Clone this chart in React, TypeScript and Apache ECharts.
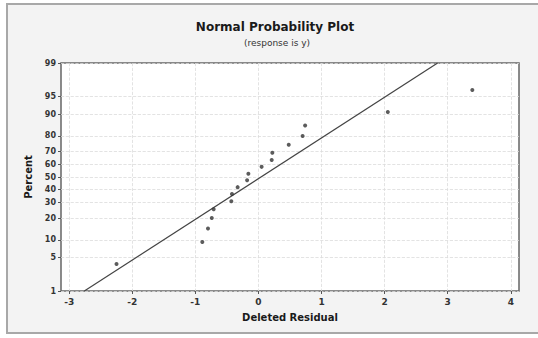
import React, { useEffect, useRef } from "react";
import * as echarts from "echarts";

// Deleted residuals (x) and their plotted percents (y)
const residuals = [-2.25, -0.89, -0.8, -0.74, -0.71, -0.43, -0.42, -0.33, -0.18, -0.16, 0.05, 0.21, 0.22, 0.48, 0.7, 0.74, 2.05, 3.39];
const percents = [3.8, 9.2, 14.7, 20.1, 25.5, 31.0, 36.4, 41.8, 47.3, 52.7, 58.2, 63.6, 69.0, 74.5, 79.9, 85.3, 90.8, 96.2];
// fitted reference line endpoints
const fitX = [-2.76, 2.84];
const fitPct = [1, 99];
// axis ticks
const yTickLabels = [1, 5, 10, 20, 30, 40, 50, 60, 70, 80, 90, 95, 99];
const xTicks = [-3, -2, -1, 0, 1, 2, 3, 4];

// inverse standard normal CDF (Acklam)
function probit(p: number): number {
  const a = [-39.69683028665376, 220.9460984245205, -275.9285104469687, 138.357751867269, -30.66479806614716, 2.506628277459239];
  const b = [-54.47609879822406, 161.5858368580409, -155.6989798598866, 66.80131188771972, -13.28068155288572];
  const c = [-0.007784894002430293, -0.3223964580411365, -2.400758277161838, -2.549732539343734, 4.374664141464968, 2.938163982698783];
  const d = [0.007784695709041462, 0.3224671290700398, 2.445134137142996, 3.754408661907416];
  const pl = 0.02425;
  if (p < pl) {
    const q = Math.sqrt(-2 * Math.log(p));
    return (((((c[0] * q + c[1]) * q + c[2]) * q + c[3]) * q + c[4]) * q + c[5]) / ((((d[0] * q + d[1]) * q + d[2]) * q + d[3]) * q + 1);
  }
  if (p > 1 - pl) {
    const q = Math.sqrt(-2 * Math.log(1 - p));
    return -(((((c[0] * q + c[1]) * q + c[2]) * q + c[3]) * q + c[4]) * q + c[5]) / ((((d[0] * q + d[1]) * q + d[2]) * q + d[3]) * q + 1);
  }
  const q = p - 0.5;
  const r = q * q;
  return ((((((a[0] * r + a[1]) * r + a[2]) * r + a[3]) * r + a[4]) * r + a[5]) * q) / (((((b[0] * r + b[1]) * r + b[2]) * r + b[3]) * r + b[4]) * r + 1);
}
const z = (pct: number) => probit(pct / 100);

export default function App() {
  const ref = useRef<HTMLDivElement>(null);
  useEffect(() => {
    if (!ref.current) return;
    const chart = echarts.init(ref.current, null, { renderer: "svg" });
    const yTickZ = yTickLabels.map(z);
    const zMin = z(1);
    const zMax = z(99);
    const font = "DejaVu Sans, Verdana, sans-serif";
    chart.setOption({
      animation: false,
      backgroundColor: "#ffffff",
      graphic: [
        {
          type: "rect",
          shape: { x: 7, y: 4, width: 540, height: 329 },
          style: { fill: "#f3f3f3", stroke: "#a8a8a8", lineWidth: 2 },
          z: -10,
          silent: true,
        },
        {
          type: "text",
          x: 275,
          y: 27,
          style: { text: "Normal Probability Plot", font: `bold 12px ${font}`, fill: "#1a1a1a", align: "center", verticalAlign: "middle" },
        },
        {
          type: "text",
          x: 277,
          y: 43,
          style: { text: "(response is y)", font: `9px ${font}`, fill: "#333", align: "center", verticalAlign: "middle" },
        },
      ],
      grid: { left: 61, right: 19, top: 63, bottom: 47, show: true, backgroundColor: "#ffffff", borderColor: "#666", borderWidth: 1.5 },
      xAxis: {
        type: "value",
        min: -3.13,
        max: 4.13,
        name: "Deleted Residual",
        nameLocation: "middle",
        nameGap: 21,
        nameTextStyle: { fontFamily: font, fontWeight: "bold", fontSize: 10, color: "#1a1a1a" },
        axisLine: { show: false, onZero: false },
        axisTick: { show: true, customValues: xTicks, length: 3, lineStyle: { color: "#555" } },
        axisLabel: { customValues: xTicks, fontFamily: font, fontSize: 9, fontWeight: "bold", color: "#333", margin: 6, formatter: (v: number) => String(v) },
        splitLine: { show: true, lineStyle: { color: "#dcdcdc", type: "dashed", width: 0.8 } },
      },
      yAxis: {
        type: "value",
        min: zMin,
        max: zMax,
        name: "Percent",
        nameLocation: "middle",
        nameGap: 27,
        nameTextStyle: { fontFamily: font, fontWeight: "bold", fontSize: 10, color: "#1a1a1a" },
        axisLine: { show: false, onZero: false },
        axisTick: { show: true, customValues: yTickZ, length: 3, lineStyle: { color: "#555" } },
        axisLabel: {
          customValues: yTickZ,
          fontFamily: font,
          fontSize: 8,
          fontWeight: "bold",
          color: "#333",
          margin: 5,
          formatter: (v: number) => {
            let best = 0;
            for (let i = 0; i < yTickZ.length; i++) if (Math.abs(yTickZ[i] - v) < Math.abs(yTickZ[best] - v)) best = i;
            return String(yTickLabels[best]);
          },
        },
        splitLine: { show: true, lineStyle: { color: "#dcdcdc", type: "dashed", width: 0.8 } },
      },
      series: [
        {
          type: "line",
          data: fitX.map((x, i) => [x, z(fitPct[i])]),
          symbol: "none",
          lineStyle: { color: "#444", width: 1.2 },
          z: 2,
        },
        {
          type: "scatter",
          data: residuals.map((x, i) => [x, z(percents[i])]),
          symbol: "circle",
          symbolSize: 4,
          itemStyle: { color: "#333" },
          z: 3,
        },
      ],
    });
    return () => chart.dispose();
  }, []);
  return <div ref={ref} style={{ position: "fixed", left: 0, top: 0, width: 538, height: 338 }} />;
}
